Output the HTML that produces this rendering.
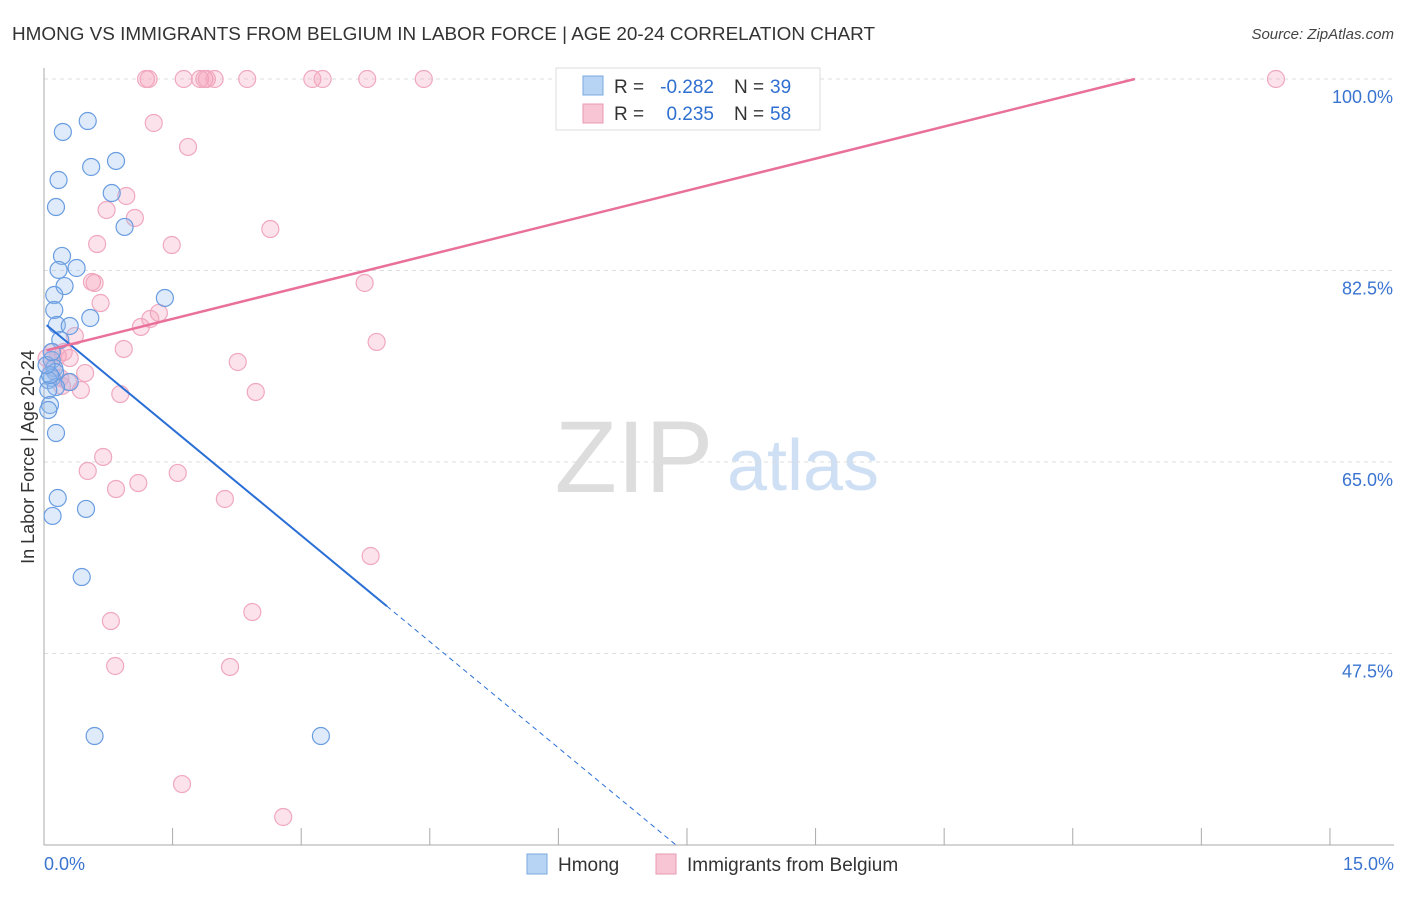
<!DOCTYPE html>
<html><head><meta charset="utf-8"><style>
body{margin:0;background:#fff;font-family:"Liberation Sans",sans-serif}
svg text{font-family:"Liberation Sans",sans-serif}
</style></head><body>
<svg id="chart" width="1406" height="892" xmlns="http://www.w3.org/2000/svg">
<text x="12" y="40" font-size="18.5" fill="#333" textLength="863" lengthAdjust="spacingAndGlyphs">HMONG VS IMMIGRANTS FROM BELGIUM IN LABOR FORCE | AGE 20-24 CORRELATION CHART</text>
<text x="1394" y="39" font-size="15" fill="#444" text-anchor="end" font-style="italic">Source: ZipAtlas.com</text>
<text transform="translate(34,457) rotate(-90)" font-size="18" fill="#333" text-anchor="middle">In Labor Force | Age 20-24</text>
<g>
<text x="634" y="492" font-size="102" fill="#ddd" text-anchor="middle" font-family="Liberation Serif, serif">ZIP</text>
<text x="803" y="490" font-size="72" fill="#cfe0f5" text-anchor="middle">atlas</text>
</g>
<g id="grid"></g><g id="axes"></g><g id="marks"></g><g id="lines"></g>
<g>
<rect x="556" y="68" width="264" height="62" fill="#fff" stroke="#ddd"/>
<rect x="583" y="76" width="20" height="19" fill="#b8d4f5" stroke="#7aa8e0"/>
<text x="614" y="93" font-size="19" fill="#333">R =</text>
<text x="714" y="93" font-size="19" fill="#2f6fd0" text-anchor="end">-0.282</text>
<text x="734" y="93" font-size="19" fill="#333">N =</text>
<text x="770" y="93" font-size="19" fill="#2f6fd0">39</text>
<rect x="583" y="104" width="20" height="19" fill="#f8c5d4" stroke="#e99ab2"/>
<text x="614" y="120" font-size="19" fill="#333">R =</text>
<text x="714" y="120" font-size="19" fill="#2f6fd0" text-anchor="end">0.235</text>
<text x="734" y="120" font-size="19" fill="#333">N =</text>
<text x="770" y="120" font-size="19" fill="#2f6fd0">58</text>
</g>
<g>
<rect x="527" y="854" width="20" height="20" fill="#b8d4f5" stroke="#7aa8e0"/>
<text x="558" y="871" font-size="19" fill="#333">Hmong</text>
<rect x="656" y="854" width="20" height="20" fill="#f8c5d4" stroke="#e99ab2"/>
<text x="687" y="871" font-size="19" fill="#333">Immigrants from Belgium</text>
</g>
</svg>
<script>
const yTicks=[100,82.5,65,47.5];
const yTickLabels=["100.0%","82.5%","65.0%","47.5%"];
const xTickLabels=["0.0%","15.0%"];
const hmongX=[0.22,0.51,0.17,0.55,0.84,0.14,0.79,0.94,0.21,0.17,0.38,0.24,0.12,0.12,1.41,0.54,0.15,0.30,0.19,0.09,0.12,0.13,0.09,0.05,0.30,0.14,0.05,0.07,0.05,0.14,0.16,0.10,0.49,0.44,0.59,3.23,0.07,0.03,0.09];
const hmongY=[95.16,96.16,90.77,91.96,92.51,88.30,89.58,86.48,83.83,82.55,82.73,81.08,80.26,78.89,79.99,78.16,77.52,77.43,76.15,74.32,73.59,73.22,72.68,72.49,72.31,71.85,71.58,70.21,69.75,67.65,61.71,60.07,60.71,54.49,39.96,39.96,72.95,73.86,75.05];
const belgX=[1.19,1.22,1.63,1.82,1.87,1.90,1.99,2.37,3.13,3.25,3.77,4.43,14.37,1.28,1.68,0.96,0.73,1.06,0.62,1.49,2.64,0.56,0.59,0.66,3.74,1.34,1.24,1.13,0.36,0.93,0.10,0.16,0.30,2.26,3.88,0.48,0.28,0.43,0.89,2.47,0.21,0.69,0.51,1.56,1.10,0.84,2.11,3.81,2.43,0.78,0.83,2.17,1.61,2.79,0.03,0.09,0.19,0.23];
const belgY=[100,100,100,100,100,100,100,100,100,100,100,100,100,95.98,93.79,89.31,88.03,87.30,84.92,84.83,86.29,81.45,81.36,79.53,81.36,78.62,78.07,77.34,76.51,75.33,75.05,74.69,74.50,74.14,75.97,73.13,72.31,71.58,71.21,71.40,71.95,65.46,64.18,64.00,63.08,62.53,61.62,56.41,51.29,50.47,46.36,46.27,35.57,32.56,74.50,73.59,72.68,75.05];
const hmongTrend=[-6.47,77.7];
const belgTrend=[1.953,75.15];

const X=v=>44+v*85.73, Y=v=>79+(100-v)*10.943;
const NS="http://www.w3.org/2000/svg";
function mk(tag,attrs,parent){const e=document.createElementNS(NS,tag);for(const k in attrs)e.setAttribute(k,attrs[k]);document.getElementById(parent).appendChild(e);return e;}
yTicks.forEach((t,i)=>{
 const g=mk('line',{x1:44,x2:1394,y1:Y(t),y2:Y(t),stroke:'#ddd','stroke-dasharray':'4,4'},'grid');
 
 
 const l=mk('text',{x:1393,y:Y(t)+24,'font-size':18,fill:'#3a74d0','text-anchor':'end'},'axes');
 l.textContent=yTickLabels[i];
 
 
});
const ax=mk('line',{x1:44,x2:44,y1:68,y2:845,stroke:'#aaa'},'axes');


const bx=mk('line',{x1:44,x2:1394,y1:845,y2:845,stroke:'#aaa'},'axes');


for(let i=1;i<=10;i++){const t=mk('line',{x1:X(i*1.5),x2:X(i*1.5),y1:828,y2:845,stroke:'#aaa'},'axes');
 
 }
[[0,'start',44],[15,'end',1394]].forEach((a,i)=>{const t=mk('text',{x:a[2],y:870,'font-size':18,fill:'#3a74d0','text-anchor':a[1]},'axes');t.textContent=xTickLabels[i];
 
 });
belgX.forEach((x,i)=>{const c=mk('circle',{cx:X(x),cy:Y(belgY[i]),r:8.5,fill:'rgba(244,160,186,0.3)',stroke:'#f0a8bf','stroke-width':1.2},'marks');
 
 });
hmongX.forEach((x,i)=>{const c=mk('circle',{cx:X(x),cy:Y(hmongY[i]),r:8.5,fill:'rgba(150,190,240,0.3)',stroke:'#6a9de0','stroke-width':1.2},'marks');
 
 });
const hy=x=>hmongTrend[0]*x+hmongTrend[1], by=x=>belgTrend[0]*x+belgTrend[1];
const x1=4.0, x2=(hmongTrend[1]-30)/-hmongTrend[0];
const h1=mk('line',{x1:X(0.03),y1:Y(hy(0.03)),x2:X(x1),y2:Y(hy(x1)),stroke:'#2a6fd6','stroke-width':2},'lines');


const h2=mk('line',{x1:X(x1),y1:Y(hy(x1)),x2:X(x2),y2:Y(hy(x2)),stroke:'#2a6fd6','stroke-width':1,'stroke-dasharray':'5,4'},'lines');


const xe=(100-belgTrend[1])/belgTrend[0];
const b1=mk('line',{x1:X(0.03),y1:Y(by(0.03)),x2:X(xe),y2:Y(by(xe)),stroke:'#e8709a','stroke-width':2.5},'lines');


</script>
</body></html>
